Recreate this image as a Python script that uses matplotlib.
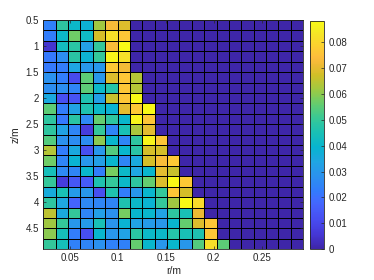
import numpy as np
import matplotlib
matplotlib.use("Agg")
from matplotlib import pyplot as plt
from matplotlib.colors import LinearSegmentedColormap

plt.rcParams["font.family"] = ["Liberation Sans", "DejaVu Sans"]

# parula (R2017a+) anchors, subsampled from the 64-entry table
parula_rgb = [
    (0.2422, 0.1504, 0.6603), (0.2706, 0.2147, 0.8364), (0.2813, 0.3006, 0.9414),
    (0.2699, 0.3892, 0.9906), (0.2440, 0.4358, 0.9988), (0.1963, 0.4847, 0.9892),
    (0.1687, 0.5703, 0.9359), (0.1248, 0.6459, 0.8883), (0.0297, 0.7082, 0.8163),
    (0.0964, 0.7500, 0.7120), (0.2161, 0.7843, 0.5923), (0.3909, 0.8029, 0.4354),
    (0.6174, 0.7876, 0.2612), (0.8203, 0.7498, 0.1535), (0.9393, 0.7288, 0.2100),
    (0.9956, 0.7434, 0.2371), (0.9892, 0.8136, 0.1885), (0.9597, 0.9135, 0.1423),
    (0.9769, 0.9839, 0.0805),
]
parula_pos = [0, 4, 8, 12, 14, 16, 20, 24, 28, 32, 36, 40, 44, 48, 51, 53, 56, 60, 63]

# cell edges
r_edges = np.linspace(0.0227, 0.2933, 22)
z_edges = np.linspace(0.5, 4.9, 23)

# cell values, rows from z=0.5 downwards, columns from small r
c_rows = [
    [.024, .049, .041, .038, .062, .073, .069, 0, 0, 0, 0, 0, 0, 0, 0, 0, 0, 0, 0, 0, 0],
    [.023, .041, .057, .042, .068, .082, .076, 0, 0, 0, 0, 0, 0, 0, 0, 0, 0, 0, 0, 0, 0],
    [.005, .043, .048, .032, .050, .073, .088, 0, 0, 0, 0, 0, 0, 0, 0, 0, 0, 0, 0, 0, 0],
    [.022, .027, .048, .038, .050, .087, .082, 0, 0, 0, 0, 0, 0, 0, 0, 0, 0, 0, 0, 0, 0],
    [.022, .023, .034, .030, .030, .077, .072, 0, 0, 0, 0, 0, 0, 0, 0, 0, 0, 0, 0, 0, 0],
    [.028, .023, .011, .055, .030, .069, .076, .064, 0, 0, 0, 0, 0, 0, 0, 0, 0, 0, 0, 0, 0],
    [.027, .027, .025, .055, .041, .047, .076, .064, 0, 0, 0, 0, 0, 0, 0, 0, 0, 0, 0, 0, 0],
    [.035, .012, .013, .046, .032, .066, .076, .088, 0, 0, 0, 0, 0, 0, 0, 0, 0, 0, 0, 0, 0],
    [.055, .023, .033, .046, .041, .039, .070, .077, .088, 0, 0, 0, 0, 0, 0, 0, 0, 0, 0, 0, 0],
    [.049, .022, .048, .026, .056, .049, .040, .087, .076, 0, 0, 0, 0, 0, 0, 0, 0, 0, 0, 0, 0],
    [.049, .033, .025, .007, .050, .025, .045, .063, .070, 0, 0, 0, 0, 0, 0, 0, 0, 0, 0, 0, 0],
    [.054, .028, .027, .027, .060, .040, .025, .049, .087, .076, 0, 0, 0, 0, 0, 0, 0, 0, 0, 0, 0],
    [.064, .023, .035, .012, .030, .054, .040, .048, .068, .068, 0, 0, 0, 0, 0, 0, 0, 0, 0, 0, 0],
    [.057, .025, .039, .030, .032, .040, .025, .035, .068, .073, .077, 0, 0, 0, 0, 0, 0, 0, 0, 0, 0],
    [.044, .026, .025, .040, .023, .058, .041, .034, .040, .070, .066, 0, 0, 0, 0, 0, 0, 0, 0, 0, 0],
    [.050, .007, .014, .015, .046, .050, .041, .049, .056, .069, .088, .077, 0, 0, 0, 0, 0, 0, 0, 0, 0],
    [.036, .045, .031, .030, .012, .046, .023, .030, .040, .050, .076, .068, 0, 0, 0, 0, 0, 0, 0, 0, 0],
    [.049, .034, .017, .026, .025, .025, .046, .041, .039, .050, .062, .088, .081, 0, 0, 0, 0, 0, 0, 0, 0],
    [.065, .035, .050, .025, .032, .028, .058, .040, .040, .033, .049, .045, .071, 0, 0, 0, 0, 0, 0, 0, 0],
    [.062, .050, .030, .031, .045, .029, .039, .033, .031, .030, .040, .056, .069, .076, 0, 0, 0, 0, 0, 0, 0],
    [.060, .044, .023, .012, .040, .030, .033, .048, .041, .041, .047, .045, .046, .076, 0, 0, 0, 0, 0, 0, 0],
    [.050, .044, .024, .025, .028, .024, .024, .056, .040, .030, .040, .030, .054, .082, .055, 0, 0, 0, 0, 0, 0],
]

x_ticks = [0.05, 0.1, 0.15, 0.2, 0.25]
x_labels = ["0.05", "0.1", "0.15", "0.2", "0.25"]
y_ticks = [0.5, 1, 1.5, 2, 2.5, 3, 3.5, 4, 4.5]
y_labels = ["0.5", "1", "1.5", "2", "2.5", "3", "3.5", "4", "4.5"]
cb_ticks = [0, 0.01, 0.02, 0.03, 0.04, 0.05, 0.06, 0.07, 0.08]
cb_labels = ["0", "0.01", "0.02", "0.03", "0.04", "0.05", "0.06", "0.07", "0.08"]

text_color = "#262626"


def main():
    parula = LinearSegmentedColormap.from_list(
        "parula", list(zip([p / 63 for p in parula_pos], parula_rgb))
    )
    c = np.array(c_rows)

    fig = plt.figure(figsize=(3.74, 2.80), dpi=100)
    ax = fig.add_axes([0.1158, 0.1096, 0.695, 0.819])
    cax = fig.add_axes([0.829, 0.1107, 0.0374, 0.815])

    mesh = ax.pcolormesh(
        r_edges, z_edges, c, cmap=parula, vmin=0, vmax=0.0884,
        edgecolors="k", linewidth=0.6,
    )
    ax.set_xlim(r_edges[0], r_edges[-1])
    ax.set_ylim(z_edges[-1], z_edges[0])

    ax.set_xticks(x_ticks)
    ax.set_xticklabels(x_labels)
    ax.set_yticks(y_ticks)
    ax.set_yticklabels(y_labels)
    ax.tick_params(direction="in", length=2, width=0.5, labelsize=7,
                   colors=text_color, top=True, right=True, pad=3)
    for s in ax.spines.values():
        s.set_color(text_color)
        s.set_linewidth(0.6)
    ax.set_xlabel("r/m", fontsize=7.5, color=text_color, labelpad=2)
    ax.set_ylabel("z/m", fontsize=7.5, color=text_color, labelpad=4)

    cb = fig.colorbar(mesh, cax=cax)
    cb.set_ticks(cb_ticks)
    cb.set_ticklabels(cb_labels)
    cb.ax.tick_params(direction="in", length=2, width=0.5, labelsize=7,
                      colors=text_color, pad=3)
    cb.outline.set_edgecolor(text_color)
    cb.outline.set_linewidth(0.6)

    fig.savefig("out.png", dpi=100)


if __name__ == "__main__":
    main()
